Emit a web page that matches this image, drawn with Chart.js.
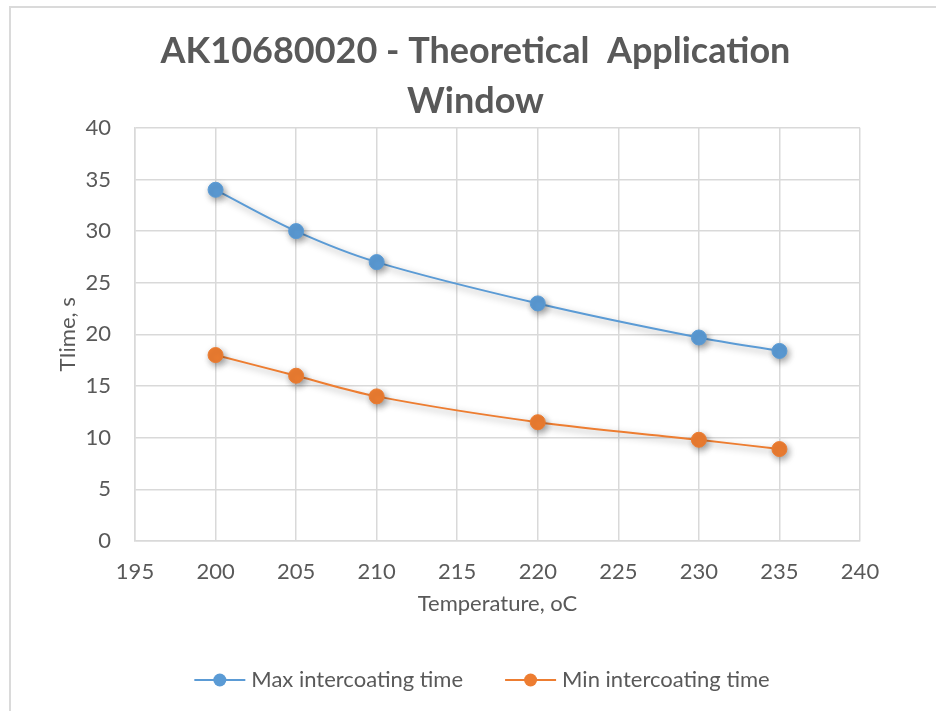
<!DOCTYPE html>
<html lang="en">

<head>
    <meta charset="UTF-8">
    <title>AK10680020 - Theoretical Application Window</title>
    <script src="https://cdn.jsdelivr.net/npm/chart.js"></script>
    <style>
        html,
        body {
            margin: 0;
            padding: 0;
            overflow: hidden;
            background: #ffffff;
        }

        #frame {
            position: absolute;
            left: 9px;
            top: 6px;
            width: 960px;
            height: 740px;
            border-left: 2px solid #dadada;
            border-top: 2px solid #dadada;
        }

        #wrap {
            position: absolute;
            left: 0;
            top: 0;
            width: 936px;
            height: 711px;
        }
    </style>
</head>

<body>
    <div id="frame"></div>
    <div id="wrap"><canvas id="chart"></canvas></div>

    <script>
        const temperatures = [200, 205, 210, 220, 230, 235];
        const maxIntercoating = [34, 30, 27, 23, 19.7, 18.4];
        const minIntercoating = [18, 16, 14, 11.5, 9.8, 8.9];
        const seriesNames = ["Max intercoating time", "Min intercoating time"];
        const seriesColors = ["#5B9BD5", "#ED7D31"];

        const FONT = "Lato, 'Open Sans', sans-serif";
        const TEXT = "#595959";
        const GRID = "#d9d9d9";

        function toPoints(xs, ys) {
            return xs.map((x, i) => ({ x: x, y: ys[i] }));
        }

        // soft drop shadow under lines and markers, like the office chart
        const markShadow = {
            id: "markShadow",
            beforeDatasetsDraw(chart) {
                const c = chart.ctx;
                c.save();
                c.shadowColor = "rgba(0, 0, 0, 0.38)";
                c.shadowBlur = 7;
                c.shadowOffsetX = 2;
                c.shadowOffsetY = 3;
            },
            afterDatasetsDraw(chart) {
                chart.ctx.restore();
            }
        };

        // title sits a bit right of the canvas centre in the original
        const shiftTitle = {
            id: "shiftTitle",
            afterLayout(chart) {
                const t = chart.titleBlock;
                if (t) {
                    t.left += 23;
                    t.right += 23;
                }
            }
        };

        // bottom legend: line + marker, then the label
        const bottomLegend = {
            id: "bottomLegend",
            afterDraw(chart) {
                const c = chart.ctx;
                const y = 680;
                const iconW = 51, textGap = 6, itemGap = 42;
                c.save();
                c.font = "22px " + FONT;
                c.textBaseline = "middle";
                c.textAlign = "left";
                const widths = chart.data.datasets.map(d => iconW + textGap + c.measureText(d.label).width);
                const total = widths.reduce((a, b) => a + b, 0) + itemGap * (widths.length - 1);
                let x = 482 - total / 2;
                chart.data.datasets.forEach((d, i) => {
                    c.strokeStyle = d.borderColor;
                    c.lineWidth = 2;
                    c.beginPath();
                    c.moveTo(x, y);
                    c.lineTo(x + iconW, y);
                    c.stroke();
                    c.fillStyle = d.backgroundColor;
                    c.beginPath();
                    c.arc(x + iconW / 2, y, 6.5, 0, Math.PI * 2);
                    c.fill();
                    c.fillStyle = TEXT;
                    c.fillText(d.label, x + iconW + textGap, y);
                    x += widths[i] + itemGap;
                });
                c.restore();
            }
        };

        function makeDataset(i, ys) {
            return {
                label: seriesNames[i],
                data: toPoints(temperatures, ys),
                showLine: true,
                borderColor: seriesColors[i],
                backgroundColor: seriesColors[i],
                borderWidth: 2,
                tension: 0.35,
                pointRadius: 7.5,
                pointBorderWidth: 1,
                pointHoverRadius: 7.5
            };
        }

        const ctx = document.getElementById("chart").getContext("2d");
        new Chart(ctx, {
            type: "scatter",
            data: {
                datasets: [makeDataset(0, maxIntercoating), makeDataset(1, minIntercoating)]
            },
            plugins: [markShadow, shiftTitle, bottomLegend],
            options: {
                responsive: true,
                maintainAspectRatio: false,
                animation: false,
                layout: {
                    padding: { left: 45, right: 76, top: 7, bottom: 90 }
                },
                plugins: {
                    legend: { display: false },
                    tooltip: { enabled: false },
                    title: {
                        display: true,
                        text: ["AK10680020 - Theoretical  Application", "Window"],
                        color: TEXT,
                        font: { family: FONT, size: 36, weight: "bold", lineHeight: 1.4 },
                        padding: { top: 19, bottom: 1 }
                    }
                },
                scales: {
                    x: {
                        type: "linear",
                        min: 195,
                        max: 240,
                        afterFit(scale) { scale.height = 80; },
                        ticks: {
                            stepSize: 5,
                            color: TEXT,
                            padding: 18,
                            font: { family: FONT, size: 22 }
                        },
                        grid: { color: GRID, lineWidth: 1.5, drawTicks: false },
                        border: { color: GRID, width: 1.5 },
                        title: {
                            display: true,
                            text: "Temperature, oC",
                            color: TEXT,
                            font: { family: FONT, size: 22 },
                            padding: { top: 0, bottom: 4 }
                        }
                    },
                    y: {
                        type: "linear",
                        min: 0,
                        max: 40,
                        afterFit(scale) { scale.width = 90; },
                        ticks: {
                            stepSize: 5,
                            color: TEXT,
                            padding: 24,
                            font: { family: FONT, size: 22 }
                        },
                        grid: { color: GRID, lineWidth: 1.5, drawTicks: false },
                        border: { color: GRID, width: 1.5 },
                        title: {
                            display: true,
                            text: "TIime, s",
                            color: TEXT,
                            font: { family: FONT, size: 22 },
                            padding: { top: 10, bottom: 0 }
                        }
                    }
                }
            }
        });
    </script>
</body>

</html>
